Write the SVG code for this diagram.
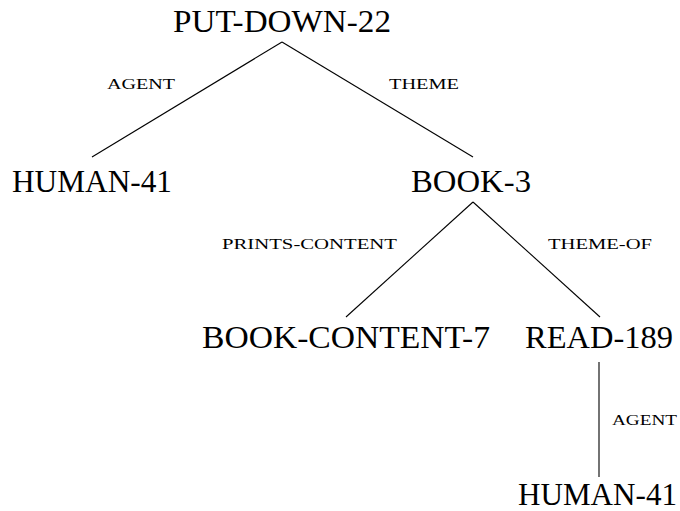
<svg xmlns="http://www.w3.org/2000/svg" width="680" height="511" viewBox="0 0 680 511">
  <style>
    text { font-family: "Liberation Serif", "DejaVu Serif", serif; fill: #000; }
    .node { font-size: 31px; }
    .lbl { font-size: 15px; }
    .edge { stroke: #000; stroke-width: 1.1; fill: none; }
  </style>
  <rect width="680" height="511" fill="#fff"/>

  <!-- tree connectors with their relation labels -->
  <g id="connectors">
    <line class="edge" x1="282" y1="42" x2="92" y2="157"/>
    <line class="edge" x1="282" y1="42" x2="473" y2="157"/>
    <line class="edge" x1="473" y1="202" x2="346" y2="317"/>
    <line class="edge" x1="473" y1="202" x2="600" y2="317"/>
    <line class="edge" x1="599" y1="362" x2="599" y2="477"/>
    <text class="lbl" x="107" y="89" textLength="68" lengthAdjust="spacingAndGlyphs">AGENT</text>
    <text class="lbl" x="389" y="89" textLength="70" lengthAdjust="spacingAndGlyphs">THEME</text>
    <text class="lbl" x="222" y="249" textLength="175" lengthAdjust="spacingAndGlyphs">PRINTS-CONTENT</text>
    <text class="lbl" x="548" y="249" textLength="104" lengthAdjust="spacingAndGlyphs">THEME-OF</text>
    <text class="lbl" x="612" y="425" textLength="65" lengthAdjust="spacingAndGlyphs">AGENT</text>
  </g>

  <g id="put-down-22">
    <text class="node" x="173" y="32" textLength="218" lengthAdjust="spacingAndGlyphs">PUT-DOWN-22</text>
  </g>
  <g id="human-41-a">
    <text class="node" x="12" y="192" textLength="160" lengthAdjust="spacingAndGlyphs">HUMAN-41</text>
  </g>
  <g id="book-3">
    <text class="node" x="411" y="192" textLength="120" lengthAdjust="spacingAndGlyphs">BOOK-3</text>
  </g>
  <g id="book-content-7">
    <text class="node" x="202" y="348" textLength="288" lengthAdjust="spacingAndGlyphs">BOOK-CONTENT-7</text>
  </g>
  <g id="read-189">
    <text class="node" x="525" y="348" textLength="148" lengthAdjust="spacingAndGlyphs">READ-189</text>
  </g>
  <g id="human-41-b">
    <text class="node" x="518" y="505" textLength="159" lengthAdjust="spacingAndGlyphs">HUMAN-41</text>
  </g>
</svg>
